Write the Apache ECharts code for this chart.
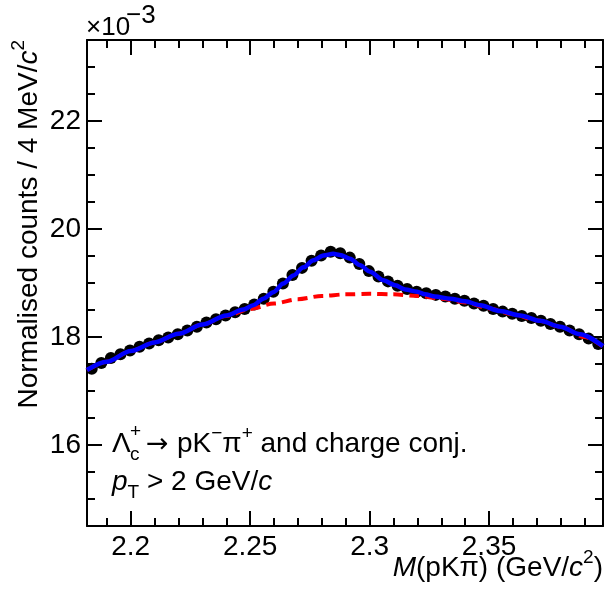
<!DOCTYPE html>
<html>
<head>
<meta charset="utf-8">
<script src="https://cdn.jsdelivr.net/npm/echarts@6/dist/echarts.min.js"></script>
<style>
  html, body { margin: 0; padding: 0; background: #fff; }
  #chart { width: 605px; height: 593px; }
</style>
</head>
<body>
<div id="chart"></div>
<script>
// Invariant-mass window (GeV/c^2)
const X_MIN = 2.1817;
const X_MAX = 2.3977;
// Normalised counts axis, in units of 10^-3
const Y_MIN = 14.5;
const Y_MAX = 23.5;

// Tick positions
const xMajorTicks = [2.2, 2.25, 2.3, 2.35];
const xMinorTicks = [2.19, 2.21, 2.22, 2.23, 2.24, 2.26, 2.27, 2.28, 2.29,
                     2.31, 2.32, 2.33, 2.34, 2.36, 2.37, 2.38, 2.39];
const yMajorTicks = [16, 18, 20, 22];
const yMinorTicks = [15, 15.5, 16.5, 17, 17.5, 18.5, 19, 19.5,
                     20.5, 21, 21.5, 22.5, 23];

// Bin centres of the 4 MeV/c^2 histogram
const binCentres = [
  2.1837, 2.1877, 2.1917, 2.1957, 2.1997, 2.2037, 2.2077, 2.2117, 2.2157, 2.2197,
  2.2237, 2.2277, 2.2317, 2.2357, 2.2397, 2.2437, 2.2477, 2.2517, 2.2557, 2.2597,
  2.2637, 2.2677, 2.2717, 2.2757, 2.2797, 2.2837, 2.2877, 2.2917, 2.2957, 2.2997,
  2.3037, 2.3077, 2.3117, 2.3157, 2.3197, 2.3237, 2.3277, 2.3317, 2.3357, 2.3397,
  2.3437, 2.3477, 2.3517, 2.3557, 2.3597, 2.3637, 2.3677, 2.3717, 2.3757, 2.3797,
  2.3837, 2.3877, 2.3917, 2.3957
];
// Normalised counts per bin (x10^-3)
const counts = [
  17.41, 17.52, 17.61, 17.68, 17.75, 17.82, 17.88, 17.94, 17.99, 18.05,
  18.12, 18.19, 18.27, 18.33, 18.40, 18.46, 18.52, 18.60, 18.71, 18.84,
  18.99, 19.15, 19.28, 19.41, 19.51, 19.58, 19.55, 19.47, 19.35, 19.22,
  19.12, 19.03, 18.95, 18.89, 18.84, 18.81, 18.78, 18.75, 18.71, 18.67,
  18.62, 18.58, 18.52, 18.47, 18.43, 18.39, 18.35, 18.30, 18.24, 18.19,
  18.12, 18.05, 17.97, 17.87
];

// Background-only fit component
const bkgMass = [2.1817, 2.19, 2.20, 2.21, 2.22, 2.23, 2.24, 2.25, 2.26, 2.27,
                 2.28, 2.29, 2.30, 2.31, 2.32, 2.33, 2.34, 2.35, 2.36, 2.37,
                 2.38, 2.39, 2.3977];
const bkgValue = [17.39, 17.54, 17.74, 17.90, 18.06, 18.23, 18.39, 18.52, 18.62, 18.70,
                  18.76, 18.79, 18.80, 18.79, 18.76, 18.71, 18.64, 18.53, 18.42, 18.31,
                  18.19, 18.00, 17.82];

// Signal + background fit
const fitMass = [2.1817, 2.19, 2.20, 2.21, 2.22, 2.23, 2.24, 2.2472, 2.2513, 2.2555,
                 2.2597, 2.2639, 2.2681, 2.2723, 2.2765, 2.2807, 2.2848, 2.2876, 2.2918,
                 2.2960, 2.3002, 2.3057, 2.3107, 2.3149, 2.3199, 2.3232, 2.3274, 2.3337,
                 2.3400, 2.3463, 2.3546, 2.3630, 2.3714, 2.3798, 2.3881, 2.3977];
const fitValue = [17.39, 17.54, 17.74, 17.90, 18.06, 18.23, 18.40, 18.51, 18.59, 18.71,
                  18.83, 18.99, 19.14, 19.29, 19.42, 19.51, 19.54, 19.52, 19.45,
                  19.33, 19.21, 19.05, 18.96, 18.88, 18.84, 18.79, 18.75, 18.71,
                  18.66, 18.59, 18.48, 18.40, 18.30, 18.19, 18.05, 17.83];

const FONT = '"Liberation Sans", Arial, Helvetica, sans-serif';
const ARROW_FONT = '"DejaVu Sans", sans-serif';
const BLACK = '#000000';

function zip(xs, ys) { return xs.map((x, i) => [x, ys[i]]); }

function xAxisDef(position, ticks, len, withLine, withLabels) {
  return {
    type: 'value', position: position, min: X_MIN, max: X_MAX, gridIndex: 0,
    axisLine: { show: withLine, onZero: false, lineStyle: { color: BLACK, width: 2 } },
    axisTick: { show: true, inside: true, length: len, customValues: ticks,
                lineStyle: { color: BLACK, width: 2 } },
    axisLabel: withLabels ? {
      show: true, customValues: ticks, margin: 7, color: BLACK,
      fontSize: 28, fontFamily: FONT,
      formatter: v => String(parseFloat(v.toFixed(2)))
    } : { show: false },
    splitLine: { show: false }
  };
}
function yAxisDef(position, ticks, len, withLine, withLabels) {
  return {
    type: 'value', position: position, min: Y_MIN, max: Y_MAX, gridIndex: 0,
    axisLine: { show: withLine, onZero: false, lineStyle: { color: BLACK, width: 2 } },
    axisTick: { show: true, inside: true, length: len, customValues: ticks,
                lineStyle: { color: BLACK, width: 2 } },
    axisLabel: withLabels ? {
      show: true, customValues: ticks, margin: 6, color: BLACK,
      fontSize: 28, fontFamily: FONT,
      formatter: v => String(Math.round(v))
    } : { show: false },
    splitLine: { show: false }
  };
}

const base = { fontSize: 28, fontFamily: FONT, fill: BLACK, lineHeight: 40 };
const richStyles = {
  n: base,
  i: Object.assign({}, base, { fontStyle: 'italic' }),
  sup: { fontSize: 19, fontFamily: FONT, fill: BLACK, lineHeight: 28, verticalAlign: 'top' },
  sub: { fontSize: 19, fontFamily: FONT, fill: BLACK, lineHeight: 22, verticalAlign: 'bottom' }
};

function label(x, y, text, align, extra) {
  return Object.assign({
    type: 'text', x: x, y: y, z: 10,
    style: {
      text: text, rich: richStyles, fill: BLACK,
      fontSize: 28, fontFamily: FONT,
      align: align, textAlign: align,
      verticalAlign: 'middle', textVerticalAlign: 'middle'
    }
  }, extra || {});
}
function plain(x, y, text, size, align, family) {
  return {
    type: 'text', x: x, y: y, z: 10,
    style: {
      text: text, fill: BLACK, fontSize: size, fontFamily: family || FONT,
      align: align, textAlign: align,
      verticalAlign: 'middle', textVerticalAlign: 'middle'
    }
  };
}

const chart = echarts.init(document.getElementById('chart'), null, { renderer: 'canvas' });
chart.setOption({
  animation: false,
  backgroundColor: '#ffffff',
  grid: { left: 87, top: 40, width: 516, height: 486, containLabel: false },
  xAxis: [
    xAxisDef('bottom', xMajorTicks, 15, true, true),
    xAxisDef('bottom', xMinorTicks, 8, false, false),
    xAxisDef('top', xMajorTicks, 15, true, false),
    xAxisDef('top', xMinorTicks, 8, false, false)
  ],
  yAxis: [
    yAxisDef('left', yMajorTicks, 15, true, true),
    yAxisDef('left', yMinorTicks, 8, false, false),
    yAxisDef('right', yMajorTicks, 15, true, false),
    yAxisDef('right', yMinorTicks, 8, false, false)
  ],
  series: [
    {
      name: 'data', type: 'scatter', xAxisIndex: 0, yAxisIndex: 0,
      data: zip(binCentres, counts), symbol: 'circle', symbolSize: 12,
      itemStyle: { color: BLACK, opacity: 1 }, z: 2
    },
    {
      name: 'background', type: 'line', xAxisIndex: 0, yAxisIndex: 0,
      data: zip(bkgMass, bkgValue), smooth: 0.3, smoothMonotone: 'x',
      showSymbol: false, symbol: 'none',
      lineStyle: { color: '#ff0000', width: 4, type: [10, 6] }, z: 3
    },
    {
      name: 'total', type: 'line', xAxisIndex: 0, yAxisIndex: 0,
      data: zip(fitMass, fitValue), smooth: 0.3, smoothMonotone: 'x',
      showSymbol: false, symbol: 'none',
      lineStyle: { color: '#0000ff', width: 4.5 }, z: 4
    }
  ],
  graphic: [
    // axis multiplier
    plain(86, 28, '\u00d710', 26, 'left'),
    plain(126, 16, '\u22123', 26, 'left'),
    // y-axis title
    label(29, 40, '{n|Normalised counts / 4 MeV/}{i|c}{sup|2}', 'right',
          { rotation: Math.PI / 2 }),
    // x-axis title
    label(603, 568, '{i|M}{n|(pK\u03c0) (GeV/}{i|c}{sup|2}{n|)}', 'right'),
    // decay channel
    plain(112, 444, '\u039b', 28, 'left'),
    plain(130, 432, '+', 19, 'left'),
    plain(130, 455, 'c', 19, 'left'),
    plain(146, 445, '\u2192', 27, 'left', ARROW_FONT),
    label(177, 444, '{n|pK}{sup|\u2212}{n|\u03c0}{sup|+}{n| and charge conj.}', 'left'),
    // transverse-momentum selection
    label(112, 482, '{i|p}{sub|T}{n| > 2 GeV/}{i|c}', 'left')
  ]
});
</script>
</body>
</html>
